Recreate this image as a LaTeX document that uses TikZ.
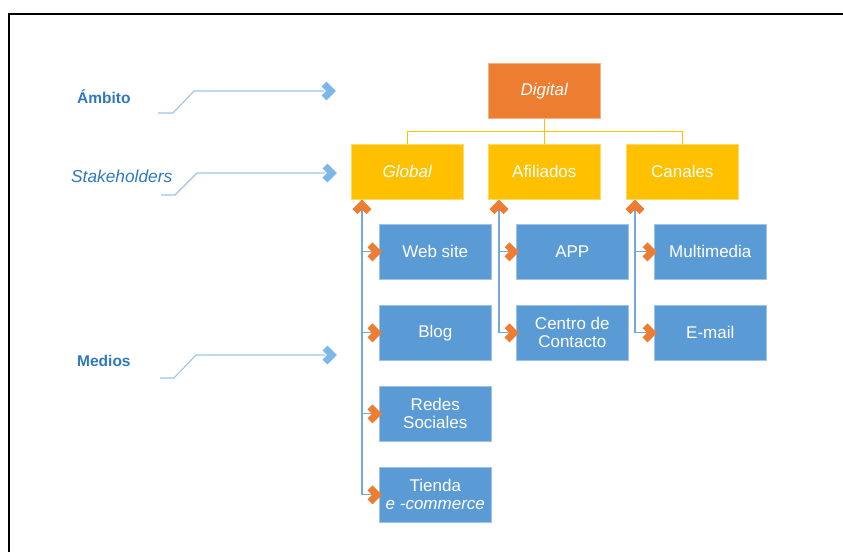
\documentclass[tikz,border=0pt]{standalone}
\usepackage{fontspec}
\setmainfont{Liberation Sans}
\usetikzlibrary{calc}
\definecolor{cOrange}{HTML}{ED7D31}
\definecolor{cYellow}{HTML}{FFC000}
\definecolor{cBlue}{HTML}{5B9BD5}
\definecolor{cLabel}{HTML}{2E78BE}
\definecolor{cLeader}{HTML}{9DC3E6}
\definecolor{cChev}{HTML}{7DB7E8}
\tikzset{
  box/.style={rectangle, anchor=north west, minimum width=112pt, minimum height=55pt,
    inner sep=0pt, align=center, text=white, font=\fontsize{17}{18}\selectfont},
  rootbox/.style={box, fill=cOrange, draw=cOrange!60!white, line width=0.6pt},
  groupbox/.style={box, fill=cYellow, draw=cYellow!60!white, line width=0.6pt},
  itembox/.style={box, fill=cBlue, draw=cBlue!60!white, line width=0.6pt},
  yline/.style={draw=cYellow, line width=1.2pt},
  bline/.style={draw=cBlue!85!white, line width=1.2pt},
  leader/.style={draw=cLeader, line width=1.1pt},
  lvl/.style={text=cLabel, font=\fontsize{15.5}{17}\selectfont\bfseries, anchor=base west, inner sep=0pt},
  % thick chevrons, tip at the pic origin
  chevR/.pic={\draw[line width=7pt, line join=miter, pic actions] (-12,-7) -- (-5,0) -- (-12,7);},
  chevU/.pic={\draw[line width=7pt, line join=miter, pic actions] (-7,12) -- (0,5) -- (7,12);},
}
\begin{document}
\begin{tikzpicture}[x=1pt, y=-1pt]
\useasboundingbox (0,0) rectangle (843,552);
% outer frame (only top and left edges fall inside the page)
\draw[line width=2pt, black] (8.5,552) -- (8.5,14) -- (843,14);

% root and groups
\node[rootbox] (dig) at (488,63) {\itshape Digital};
\node[groupbox] (glo) at (351,144) {\itshape Global};
\node[groupbox] (afi) at (488,144) {Afiliados};
\node[groupbox] (can) at (626,144) {Canales};

% media items
\node[itembox] (web) at (379,224) {Web site};
\node[itembox] (blo) at (379,305) {Blog};
\node[itembox] (red) at (379,386) {Redes\\Sociales};
\node[itembox] (tie) at (379,467) {Tienda\\\itshape e -commerce};
\node[itembox] (app) at (516,224) {APP};
\node[itembox] (cen) at (516,305) {Centro de\\Contacto};
\node[itembox] (mul) at (654,224) {Multimedia};
\node[itembox] (ema) at (654,305) {E-mail};

% org-chart connectors
\draw[yline] (dig.south) -- ++(0,13) -| (glo.north);
\draw[yline] (dig.south) -- ++(0,13) -| (can.north);
\draw[yline] (dig.south) -- (afi.north);

% trunks under each group
\coordinate (gtop) at ($(glo.south west)+(11,0)$);
\coordinate (atop) at ($(afi.south west)+(11,0)$);
\coordinate (ctop) at ($(can.south west)+(9,0)$);

\draw[bline] (gtop) |- (tie.west);
\draw[bline] (gtop |- web.west) -- (web.west);
\draw[bline] (gtop |- blo.west) -- (blo.west);
\draw[bline] (gtop |- red.west) -- (red.west);

\draw[bline] (atop) |- (cen.west);
\draw[bline] (atop |- app.west) -- (app.west);

\draw[bline] (ctop) |- (ema.west);
\draw[bline] (ctop |- mul.west) -- (mul.west);

% arrow heads of the trunks
\foreach \p in {gtop,atop,ctop} \pic[draw=cOrange] at (\p) {chevU};
\foreach \n in {web,blo,red,tie,app,cen,mul,ema}
  \pic[draw=cOrange] at ($(\n.west)+(3,0)$) {chevR};

% level labels with leader lines
\node[lvl] (amb) at (77,103) {Ámbito};
\node[lvl, font=\fontsize{17.3}{19}\selectfont\itshape] (stk) at (71,182) {Stakeholders};
\node[lvl] (med) at (77,366) {Medios};

\coordinate (a0) at (158,113); \coordinate (a1) at (336,91);
\coordinate (s0) at (161,195); \coordinate (s1) at (337,173);
\coordinate (m0) at (160,378); \coordinate (m1) at (337,355);

\draw[leader] (a0) -- ++(15,0) -- ++(21,-22) -- ($(a1)+(-12,0)$);
\draw[leader] (s0) -- ++(14,0) -- ++(22,-22) -- ($(s1)+(-12,0)$);
\draw[leader] (m0) -- ++(14,0) -- ++(22,-23) -- ($(m1)+(-12,0)$);
\foreach \p in {a1,s1,m1} \pic[draw=cChev] at (\p) {chevR};
\end{tikzpicture}
\end{document}
